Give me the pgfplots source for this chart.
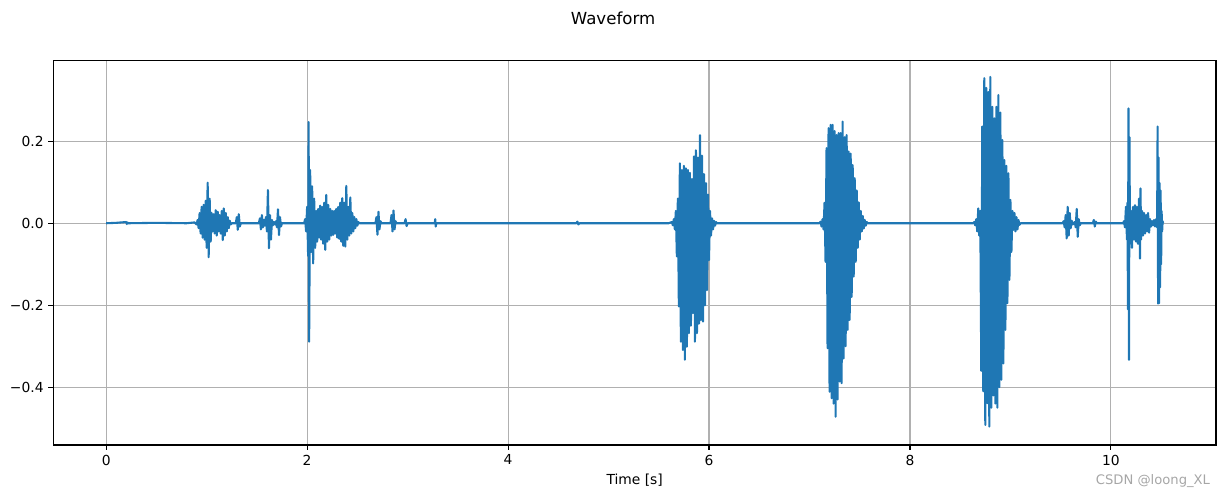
\documentclass[border=0pt]{standalone}
\usepackage{pgfplots}
\pgfplotsset{compat=1.18}
\usepackage{fontspec}
\setmainfont{DejaVu Sans}
\definecolor{mplblue}{RGB}{31,119,180}
\definecolor{gridgray}{RGB}{176,176,176}
\begin{document}
\begin{tikzpicture}
\useasboundingbox (-38.4bp,-38.2bp) rectangle (843.6bp,320.4bp);
\begin{axis}[
  at={(0,0)}, anchor=south west,
  scale only axis, width=837.1bp, height=277bp,
  xmin=-0.526, xmax=11.046, ymin=-0.541, ymax=0.3976,
  xtick={0,2,4,6,8,10},
  ytick={-0.4,-0.2,0,0.2},
  yticklabels={−0.4,−0.2,0.0,0.2},
  xtick pos=lower, ytick pos=left,
  tick align=outside, major tick length=3.5bp,
  tick style={black, line width=0.8bp},
  axis line style={line width=0.8bp},
  grid=major, grid style={gridgray, line width=0.8bp},
  /pgf/number format/assume math mode=true,
  tick label style={font=\fontsize{10}{12}\selectfont},
  xlabel={Time [s]},
  xlabel style={font=\fontsize{10}{12}\selectfont, at={(axis description cs:0.5,0)}, anchor=center, yshift=-25.5bp},
]
\addplot[mplblue, line width=1.5bp, line join=round] coordinates {
(0,0) (0.1,0.001) (0.2,0.003) (0.205,-0.002) (0.21,0.002) (0.22,0) (0.5,0.001) (0.8,0) (0.88,0.002) (0.9,-0.003)
(0.91,0.008) (0.92,-0.012) (0.93,0.025) (0.94,-0.025) (0.95,0.04) (0.96,-0.035) (0.97,0.045) (0.98,-0.04) (0.99,0.055) (1.00,-0.06)
(1.01,0.099) (1.02,-0.083) (1.03,0.06) (1.04,-0.045) (1.05,0.025) (1.06,-0.02) (1.07,0.022) (1.08,-0.025) (1.09,0.032) (1.10,-0.03)
(1.11,0.028) (1.12,-0.02) (1.13,0.02) (1.14,-0.025) (1.15,0.03) (1.16,-0.041) (1.17,0.036) (1.18,-0.03) (1.19,0.025) (1.20,-0.02)
(1.21,0.015) (1.22,-0.012) (1.23,0.006) (1.24,-0.003) (1.25,0)
(1.29,0) (1.30,0.015) (1.31,-0.016) (1.32,0.022) (1.33,-0.008) (1.34,0)
(1.52,0) (1.53,0.012) (1.54,-0.015) (1.55,0.02) (1.56,-0.01) (1.57,0.008) (1.58,-0.006) (1.59,0.015) (1.60,-0.02) (1.61,0.081)
(1.62,-0.061) (1.63,0.02) (1.64,-0.04) (1.65,0.008) (1.66,-0.005) (1.67,0.003) (1.68,-0.003) (1.69,0.005) (1.70,-0.01) (1.71,0.034)
(1.72,-0.029) (1.73,0.015) (1.74,-0.008) (1.75,0)
(1.97,0) (1.98,0.01) (1.99,-0.02) (2.00,0.04) (2.01,-0.08) (2.015,0.247) (2.02,-0.289) (2.03,0.13) (2.04,-0.07) (2.05,0.09)
(2.06,-0.098) (2.07,0.06) (2.08,-0.06) (2.09,0.03) (2.10,-0.045) (2.11,0.035) (2.12,-0.035) (2.13,0.043) (2.14,-0.04) (2.15,0.04)
(2.16,-0.05) (2.17,0.05) (2.18,-0.065) (2.19,0.069) (2.20,-0.045) (2.21,0.045) (2.22,-0.04) (2.23,0.035) (2.24,-0.03) (2.25,0.03)
(2.26,-0.028) (2.27,0.03) (2.28,-0.025) (2.29,0.035) (2.30,-0.035) (2.31,0.04) (2.32,-0.038) (2.33,0.05) (2.34,-0.045) (2.35,0.061)
(2.36,-0.055) (2.37,0.05) (2.38,-0.057) (2.39,0.091) (2.40,-0.04) (2.41,0.04) (2.42,-0.03) (2.43,0.063) (2.44,-0.025) (2.45,0.025)
(2.46,-0.02) (2.47,0.015) (2.48,-0.012) (2.49,0.01) (2.50,-0.006) (2.51,0.003) (2.52,0)
(2.68,0) (2.69,0.015) (2.70,-0.028) (2.71,0.028) (2.72,-0.015) (2.73,0.005) (2.74,0)
(2.83,0) (2.84,0.02) (2.85,-0.02) (2.86,0.031) (2.87,-0.015) (2.88,0.005) (2.89,0)
(2.97,0) (2.98,0.01) (2.99,-0.007) (3.00,0)
(3.27,0) (3.275,0.01) (3.28,-0.008) (3.285,0)
(3.5,0) (4.68,0) (4.69,0.004) (4.70,-0.003) (4.71,0) (5.6,0)
(5.63,0.003) (5.64,-0.005) (5.65,0.01) (5.66,-0.015) (5.67,0.03) (5.68,-0.081) (5.69,0.06) (5.70,-0.203) (5.71,0.146) (5.72,-0.289)
(5.73,0.13) (5.74,-0.309) (5.75,0.14) (5.76,-0.333) (5.77,0.134) (5.78,-0.301) (5.79,0.13) (5.80,-0.268) (5.81,0.123) (5.82,-0.25)
(5.83,0.108) (5.84,-0.219) (5.85,0.163) (5.86,-0.289) (5.87,0.178) (5.88,-0.268) (5.89,0.16) (5.90,-0.245) (5.91,0.215) (5.92,-0.236)
(5.93,0.165) (5.94,-0.24) (5.95,0.12) (5.96,-0.2) (5.97,0.098) (5.98,-0.163) (5.99,0.07) (6.00,-0.09) (6.01,0.03) (6.02,-0.03)
(6.03,0.012) (6.04,-0.015) (6.05,0.006) (6.06,-0.006) (6.07,0.003) (6.08,0)
(7.10,0) (7.11,0.004) (7.12,-0.008) (7.13,0.01) (7.14,-0.015) (7.15,0.05) (7.16,-0.094) (7.17,0.183) (7.18,-0.305) (7.19,0.232)
(7.20,-0.411) (7.21,0.24) (7.22,-0.427) (7.23,0.24) (7.24,-0.44) (7.25,0.225) (7.26,-0.472) (7.27,0.215) (7.28,-0.43) (7.29,0.22)
(7.30,-0.386) (7.31,0.22) (7.32,-0.39) (7.33,0.248) (7.34,-0.33) (7.35,0.21) (7.36,-0.30) (7.37,0.215) (7.38,-0.26) (7.39,0.175)
(7.40,-0.236) (7.41,0.17) (7.42,-0.18) (7.43,0.142) (7.44,-0.13) (7.45,0.11) (7.46,-0.094) (7.47,0.08) (7.48,-0.06) (7.49,0.051)
(7.50,-0.04) (7.51,0.03) (7.52,-0.02) (7.53,0.018) (7.54,-0.013) (7.55,0.008) (7.56,-0.006) (7.57,0.003) (7.58,0)
(8.63,0) (8.64,0.003) (8.65,-0.005) (8.66,0.01) (8.67,-0.02) (8.68,0.036) (8.69,-0.03) (8.70,0.03) (8.71,-0.36) (8.72,0.236)
(8.73,-0.41) (8.74,0.354) (8.75,-0.492) (8.76,0.33) (8.77,-0.439) (8.78,0.32) (8.79,-0.496) (8.80,0.357) (8.81,-0.45) (8.82,0.284)
(8.83,-0.42) (8.84,0.256) (8.85,-0.44) (8.86,0.284) (8.87,-0.45) (8.88,0.313) (8.89,-0.40) (8.90,0.27) (8.91,-0.382) (8.92,0.203)
(8.93,-0.342) (8.94,0.154) (8.95,-0.26) (8.96,0.14) (8.97,-0.195) (8.98,0.122) (8.99,-0.138) (9.00,0.057) (9.01,-0.07) (9.02,0.03)
(9.03,-0.016) (9.04,0.025) (9.05,-0.02) (9.06,0.015) (9.07,-0.015) (9.08,0.008) (9.09,-0.004) (9.10,0)
(9.52,0) (9.53,0.005) (9.54,-0.01) (9.55,0.02) (9.56,-0.037) (9.57,0.04) (9.58,-0.03) (9.59,0.025) (9.60,-0.012) (9.61,0.006)
(9.62,-0.003) (9.63,0) (9.64,0.003) (9.65,-0.01) (9.66,0.035) (9.67,-0.033) (9.68,0.01) (9.69,-0.005) (9.70,0)
(9.82,0) (9.83,0.008) (9.84,-0.008) (9.85,0.004) (9.86,0)
(10.12,0) (10.13,0.005) (10.14,-0.01) (10.15,0.04) (10.16,-0.04) (10.165,0.05) (10.17,-0.21) (10.175,0.28) (10.18,-0.333) (10.185,0.21)
(10.19,-0.05) (10.20,0.03) (10.21,-0.06) (10.22,0.04) (10.23,-0.04) (10.24,0.044) (10.25,-0.045) (10.26,0.04) (10.27,-0.05) (10.28,0.06)
(10.29,-0.086) (10.295,0.085) (10.30,-0.04) (10.31,0.03) (10.32,-0.03) (10.33,0.025) (10.34,-0.025) (10.35,0.02) (10.36,-0.02) (10.37,0.025)
(10.38,-0.023) (10.39,0.01) (10.40,-0.008) (10.41,0.005) (10.42,-0.005) (10.43,0.008) (10.44,-0.008) (10.45,0.01) (10.46,-0.01) (10.465,0.236)
(10.47,-0.196) (10.475,0.16) (10.48,-0.195) (10.485,0.098) (10.49,-0.156) (10.495,0.08) (10.50,-0.1) (10.505,0.03) (10.51,-0.02) (10.515,0.005)
(10.52,0)
};
\end{axis}
\node[anchor=center] at (403bp,307.4bp) {\fontsize{12}{14}\selectfont Waveform};
\node[anchor=east, text=black!35, inner sep=0pt] at (833bp,-25.9bp) {\fontsize{9.5}{11}\selectfont CSDN @loong\_XL};
\end{tikzpicture}
\end{document}
